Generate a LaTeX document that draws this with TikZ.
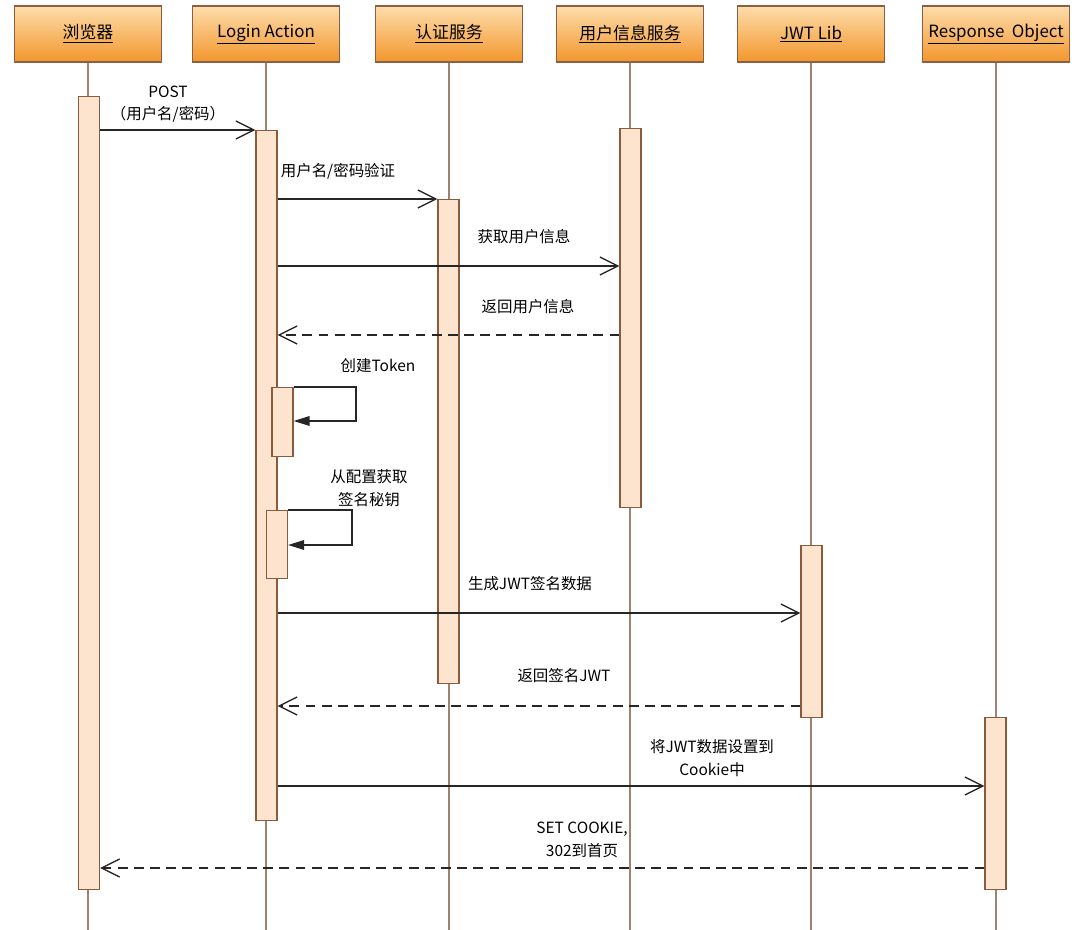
\documentclass[tikz,border=0pt]{standalone}
\usepackage{fontspec}
\setmainfont{Noto Sans CJK SC}
\usetikzlibrary{arrows.meta}

\definecolor{hdrtop}{HTML}{FDDDAB}
\definecolor{hdrbot}{HTML}{F3962C}
\definecolor{hdrline}{HTML}{8C5F45}
\definecolor{barfill}{HTML}{FCE4CE}
\definecolor{barline}{HTML}{8C5A3C}
\definecolor{lifeline}{HTML}{A08272}

\begin{document}
\begin{tikzpicture}[
        header/.style={draw=hdrline, line width=1pt, top color=hdrtop, bottom color=hdrbot,
            minimum width=3.675cm, minimum height=1.4cm, font=\fontsize{12}{14}\selectfont},
        actbar/.style={draw=barline, fill=barfill, line width=0.8pt, minimum width=0.525cm,
            anchor=north, inner sep=0pt},
        life/.style={draw=lifeline, line width=1pt},
        msg/.style={draw=black!85, line width=1pt, -{Straight Barb[length=4.5mm,width=4.5mm]}},
        reply/.style={msg, dash pattern=on 7pt off 4.5pt},
        selfmsg/.style={draw=black!85, line width=1pt, -{Triangle[length=4mm,width=2.4mm]}},
        lbl/.style={font=\fontsize{11}{16}\selectfont, align=center, inner sep=0pt}
    ]
        \useasboundingbox (0,0) rectangle (27,-23.25);

        \node[header] (browser) at (2.2,-0.85) {\underline{浏览器}};
        \node[header] (login) at (6.65,-0.85) {\underline{Login Action}};
        \node[header] (auth) at (11.225,-0.85) {\underline{认证服务}};
        \node[header] (userinfo) at (15.75,-0.85) {\underline{用户信息服务}};
        \node[header] (jwtlib) at (20.275,-0.85) {\underline{JWT Lib}};
        \node[header] (respobj) at (24.9,-0.85) {\underline{Response\ \ Object}};

        \draw[life] (browser.south) -- (browser.south |- 0,-23.25);
        \draw[life] (login.south) -- (login.south |- 0,-23.25);
        \draw[life] (auth.south) -- (auth.south |- 0,-23.25);
        \draw[life] (userinfo.south) -- (userinfo.south |- 0,-23.25);
        \draw[life] (jwtlib.south) -- (jwtlib.south |- 0,-23.25);
        \draw[life] (respobj.south) -- (respobj.south |- 0,-23.25);

        \node[actbar, minimum height=19.825cm] (brbar) at (2.225,-2.4) {};
        \node[actbar, minimum height=17.25cm] (lgbar) at (6.6625,-3.25) {};
        \node[actbar, minimum height=12.1cm] (aubar) at (11.2125,-4.975) {};
        \node[actbar, minimum height=9.475cm] (uibar) at (15.7625,-3.2) {};
        \node[actbar, minimum height=4.3cm] (jwbar) at (20.2875,-13.625) {};
        \node[actbar, minimum height=4.3cm] (rsbar) at (24.8875,-17.925) {};
        \node[actbar, minimum height=1.725cm] (tokbar) at (7.0625,-9.675) {};
        \node[actbar, minimum height=1.7cm] (keybar) at (6.925,-12.75) {};

        \draw[msg] (brbar.east |- 0,-3.25) -- (lgbar.west |- 0,-3.25);
        \node[lbl] (postlbl) at (4.2,-2.6) {POST\\（用户名/密码）};

        \draw[msg] (lgbar.east |- 0,-4.975) -- (aubar.west |- 0,-4.975);
        \node[lbl] (checklbl) at (8.45,-4.275) {用户名/密码验证};

        \draw[msg] (lgbar.east |- 0,-6.65) -- (uibar.west |- 0,-6.65);
        \node[lbl] (getlbl) at (13.1,-5.925) {获取用户信息};

        \draw[reply] (uibar.west |- 0,-8.375) -- (lgbar.east |- 0,-8.375);
        \node[lbl] (retlbl) at (13.2,-7.675) {返回用户信息};

        \draw[selfmsg] (tokbar.north east) -| (8.9,-10.525) -- (tokbar.east |- 0,-10.525);
        \node[lbl] (toklbl) at (9.45,-9.15) {创建Token};

        \draw[selfmsg] (keybar.north east) -| (8.8,-13.625) -- (keybar.east |- 0,-13.625);
        \node[lbl] (keylbl) at (9.225,-12.2) {从配置获取\\签名秘钥};

        \draw[msg] (lgbar.east |- 0,-15.325) -- (jwbar.west |- 0,-15.325);
        \node[lbl] (signlbl) at (13.25,-14.6) {生成JWT签名数据};

        \draw[reply] (jwbar.west |- 0,-17.65) -- (lgbar.east |- 0,-17.65);
        \node[lbl] (jwtlbl) at (14.1,-16.9) {返回签名JWT};

        \draw[msg] (lgbar.east |- 0,-19.65) -- (rsbar.west |- 0,-19.65);
        \node[lbl] (cookielbl) at (17.8,-18.95) {将JWT数据设置到\\Cookie中};

        \draw[reply] (rsbar.west |- 0,-21.7) -- (brbar.east |- 0,-21.7);
        \node[lbl] (setlbl) at (14.55,-21.0) {SET COOKIE,\\302到首页};
\end{tikzpicture}
\end{document}
